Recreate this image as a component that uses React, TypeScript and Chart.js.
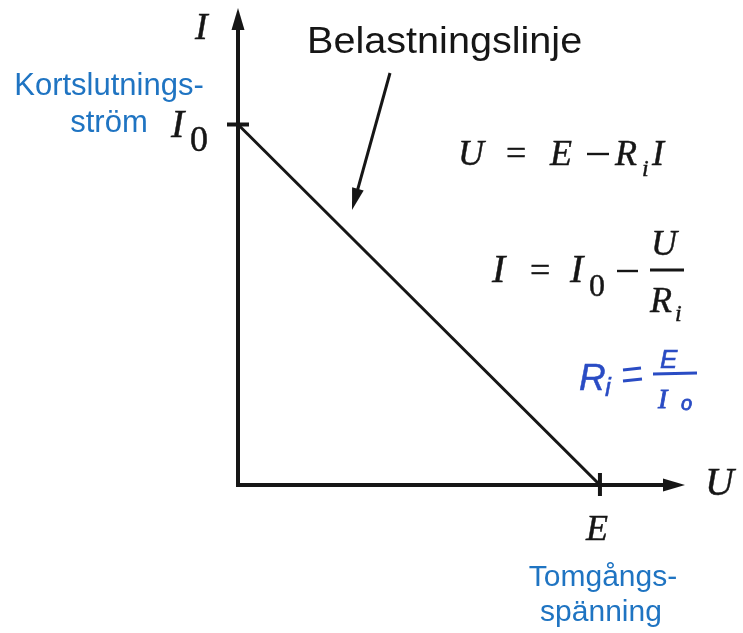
import React, { useEffect, useRef } from "react";
import { Chart, registerables } from "chart.js";

Chart.register(...registerables);

// Load line: I = I0 - U/Ri, from short-circuit current (U=0, I=I0) to open-circuit voltage (U=E, I=0)
const E_VALUE = 1;
const I0_VALUE = 1;
const loadLineU = [0, E_VALUE];
const loadLineI = [I0_VALUE, 0];
const axisMaxU = 1.235;
const axisMaxI = 1.323;
const tickLabelU = "E";
const tickLabelI = "I";
const axisTitleU = "U";
const axisTitleI = "I";
const labelShortCircuit = ["Kortslutnings-", "ström"];
const labelOpenCircuit = ["Tomgångs-", "spänning"];
const labelLoadLine = "Belastningslinje";

const BLUE = "#1f74c2";
const INK = "#161616";
const SERIF = '"Liberation Serif", "DejaVu Serif", serif';
const SANS = '"Liberation Sans", Arial, sans-serif';

const drawPlugin = {
  id: "diagram",
  afterDatasetsDraw(chart: any) {
    const ctx: CanvasRenderingContext2D = chart.ctx;
    const xs = chart.scales.x;
    const ys = chart.scales.y;
    const x0 = xs.getPixelForValue(0);
    const y0 = ys.getPixelForValue(0);
    const xE = xs.getPixelForValue(E_VALUE);
    const yI0 = ys.getPixelForValue(I0_VALUE);
    const xEnd = xs.getPixelForValue(axisMaxU);
    const yEnd = ys.getPixelForValue(axisMaxI);

    ctx.save();
    ctx.strokeStyle = INK;
    ctx.fillStyle = INK;
    ctx.lineCap = "butt";

    // axes
    ctx.lineWidth = 4;
    ctx.beginPath();
    ctx.moveTo(x0, y0 + 2);
    ctx.lineTo(x0, yEnd + 18);
    ctx.moveTo(x0 - 2, y0);
    ctx.lineTo(xEnd - 18, y0);
    ctx.stroke();
    // arrowheads
    ctx.beginPath();
    ctx.moveTo(x0, yEnd);
    ctx.lineTo(x0 - 6.5, yEnd + 22);
    ctx.lineTo(x0 + 6.5, yEnd + 22);
    ctx.closePath();
    ctx.fill();
    ctx.beginPath();
    ctx.moveTo(xEnd, y0);
    ctx.lineTo(xEnd - 22, y0 - 6.5);
    ctx.lineTo(xEnd - 22, y0 + 6.5);
    ctx.closePath();
    ctx.fill();

    // ticks
    ctx.lineWidth = 4;
    ctx.beginPath();
    ctx.moveTo(x0 - 11, yI0);
    ctx.lineTo(x0 + 11, yI0);
    ctx.moveTo(xE, y0 - 12);
    ctx.lineTo(xE, y0 + 11);
    ctx.stroke();

    // pointer arrow to the load line
    const ax1 = 390, ay1 = 73, ax2 = 352, ay2 = 210;
    const ang = Math.atan2(ay2 - ay1, ax2 - ax1);
    ctx.lineWidth = 3;
    ctx.beginPath();
    ctx.moveTo(ax1, ay1);
    ctx.lineTo(ax2 - Math.cos(ang) * 16, ay2 - Math.sin(ang) * 16);
    ctx.stroke();
    ctx.beginPath();
    ctx.moveTo(ax2, ay2);
    ctx.lineTo(ax2 - Math.cos(ang) * 22 + Math.sin(ang) * 6, ay2 - Math.sin(ang) * 22 - Math.cos(ang) * 6);
    ctx.lineTo(ax2 - Math.cos(ang) * 22 - Math.sin(ang) * 6, ay2 - Math.sin(ang) * 22 + Math.cos(ang) * 6);
    ctx.closePath();
    ctx.fill();

    // text helpers (slight stroke to imitate the heavier scanned print)
    const txt = (s: string, x: number, y: number, font: string, weight = 0.45) => {
      ctx.font = font;
      ctx.fillText(s, x, y);
      if (weight > 0) {
        ctx.lineWidth = weight;
        ctx.strokeText(s, x, y);
      }
    };
    const it = (s: string, x: number, y: number, size: number) => txt(s, x, y, `italic ${size}px ${SERIF}`);
    const rm = (s: string, x: number, y: number, size: number) => txt(s, x, y, `${size}px ${SERIF}`);
    const minus = (x1: number, x2: number, y: number) => {
      ctx.lineWidth = 2.4;
      ctx.beginPath();
      ctx.moveTo(x1, y);
      ctx.lineTo(x2, y);
      ctx.stroke();
    };

    // axis labels
    ctx.textBaseline = "alphabetic";
    ctx.textAlign = "left";
    it(axisTitleI, x0 - 43, yEnd + 31, 38);
    it(axisTitleU, xEnd + 20, y0 + 10, 40);
    // I0 tick label
    it(tickLabelI, x0 - 67, yI0 + 13, 40);
    rm("0", x0 - 48, yI0 + 27, 36);
    // E tick label
    ctx.textAlign = "center";
    it(tickLabelU, xE - 3, y0 + 55, 36);

    // blue annotations
    ctx.fillStyle = BLUE;
    ctx.font = `31px ${SANS}`;
    ctx.fillText(labelShortCircuit[0], 109, 95);
    ctx.fillText(labelShortCircuit[1], 109, 132);
    ctx.font = `30px ${SANS}`;
    ctx.fillText(labelOpenCircuit[0], 603, 586);
    ctx.fillText(labelOpenCircuit[1], 601, 621);

    // load line label (slightly wide sans, as in the print)
    ctx.fillStyle = INK;
    ctx.textAlign = "left";
    ctx.save();
    ctx.translate(307, 53);
    ctx.scale(1.1, 1);
    ctx.font = `36px ${SANS}`;
    ctx.fillText(labelLoadLine, 0, 0);
    ctx.restore();

    // formula 1: U = E − R_i I
    ctx.fillStyle = INK;
    ctx.strokeStyle = INK;
    it("U", 458, 165, 36);
    rm("=", 506, 165, 36);
    it("E", 550, 165, 36);
    minus(587, 609, 154);
    it("R", 615, 165, 36);
    it("i", 642, 176, 24);
    it("I", 652, 165, 36);

    // formula 2: I = I0 − U / R_i
    it("I", 492, 282, 40);
    rm("=", 530, 282, 36);
    it("I", 570, 282, 40);
    rm("0", 589, 296, 32);
    minus(617, 638, 271);
    it("U", 651, 255, 36);
    ctx.lineWidth = 2.8;
    ctx.beginPath();
    ctx.moveTo(650, 270);
    ctx.lineTo(684, 270);
    ctx.stroke();
    it("R", 650, 312, 36);
    it("i", 675, 321, 24);

    // handwritten: Ri = E / I0
    const HAND = "#2a4cc4";
    ctx.fillStyle = HAND;
    ctx.strokeStyle = HAND;
    txt("R", 579, 390, `italic 37px ${SANS}`, 0.5);
    txt("i", 605, 396, `italic 26px ${SANS}`, 0.5);
    ctx.lineWidth = 2.8;
    ctx.beginPath();
    ctx.moveTo(623, 370);
    ctx.lineTo(641, 368);
    ctx.moveTo(623, 381);
    ctx.lineTo(642, 379);
    ctx.stroke();
    txt("E", 660, 368, `italic 26px ${SANS}`, 0.6);
    ctx.lineWidth = 3;
    ctx.beginPath();
    ctx.moveTo(653, 374);
    ctx.lineTo(697, 373);
    ctx.stroke();
    txt("I", 658, 408, `italic 28px ${SERIF}`, 0.8);
    txt("o", 681, 410, `italic 20px ${SANS}`, 0.8);

    ctx.restore();
  },
};

export default function App() {
  const ref = useRef<HTMLCanvasElement | null>(null);
  useEffect(() => {
    if (!ref.current) return;
    const chart = new Chart(ref.current, {
      type: "scatter",
      data: {
        datasets: [
          {
            data: loadLineU.map((u, i) => ({ x: u, y: loadLineI[i] })),
            showLine: true,
            borderColor: INK,
            borderWidth: 3,
            pointRadius: 0,
            fill: false,
          },
        ],
      },
      options: {
        animation: false,
        responsive: false,
        events: [],
        layout: { padding: { left: 238, right: 58, top: 8, bottom: 148 } },
        plugins: { legend: { display: false }, tooltip: { enabled: false } },
        scales: {
          x: { type: "linear", min: 0, max: axisMaxU, display: false },
          y: { type: "linear", min: 0, max: axisMaxI, display: false },
        },
      },
      plugins: [drawPlugin],
    });
    return () => chart.destroy();
  }, []);
  return (
    <div style={{ position: "fixed", left: 0, top: 0, width: 743, height: 633, background: "#fff" }}>
      <canvas ref={ref} width={743} height={633} style={{ width: 743, height: 633 }} />
    </div>
  );
}
